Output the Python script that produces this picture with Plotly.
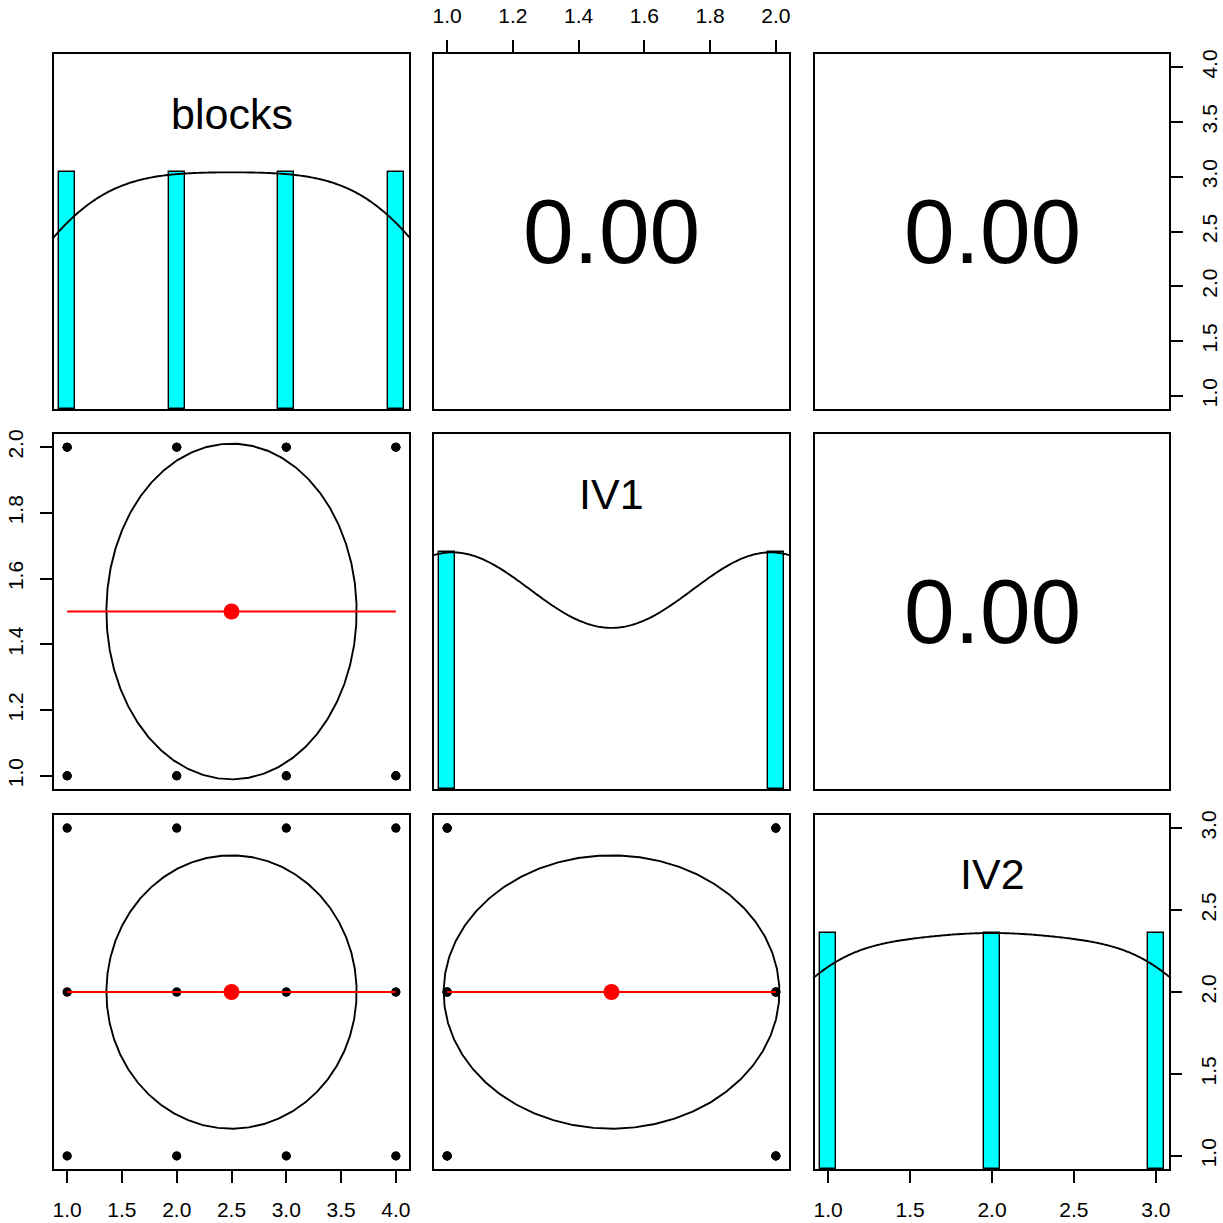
import numpy as np
import plotly.graph_objects as go

# ---------------- data ----------------
var_names = ["blocks", "IV1", "IV2"]
blocks_levels = [1, 2, 3, 4]
iv1_levels = [1, 2]
iv2_levels = [1, 2, 3]

# full factorial design: 4 x 2 x 3 = 24 observations
blocks = []
iv1 = []
iv2 = []
for b in blocks_levels:
    for a in iv1_levels:
        for c in iv2_levels:
            blocks.append(b)
            iv1.append(a)
            iv2.append(c)

blocks_ticks = [1.0, 1.5, 2.0, 2.5, 3.0, 3.5, 4.0]
iv1_ticks = [1.0, 1.2, 1.4, 1.6, 1.8, 2.0]
iv2_ticks = [1.0, 1.5, 2.0, 2.5, 3.0]

# kernel bandwidths of the diagonal density curves
density_bw = [0.70, 0.343, 0.56]

# ---------------- helpers ----------------
data = [np.array(blocks, float), np.array(iv1, float), np.array(iv2, float)]
ticks = [blocks_ticks, iv1_ticks, iv2_ticks]

def ext_range(v):
    lo, hi = v.min(), v.max()
    d = (hi - lo) * 0.04
    return [lo - d, hi + d]

ranges = [ext_range(v) for v in data]

W = 1223
col_px = [(54, 409), (434, 789), (815, 1169)]
row_px = [(54, 409), (434, 789), (815, 1169)]

FONT = "Liberation Sans, Arial, Helvetica, sans-serif"
TICKFONT = dict(family=FONT, size=21, color="black")
LW = 1.9
STANDOFF = 9

fig = go.Figure()
layout = dict(
    template="none",
    width=W, height=W, autosize=False,
    margin=dict(l=0, r=0, t=0, b=0, pad=0),
    paper_bgcolor="white", plot_bgcolor="white",
    showlegend=False, font=dict(family=FONT, color="black"),
    bargap=0,
)
annotations = []

def kidx(r, c):
    return r * 3 + c + 1

def axname(prefix, k):
    return prefix if k == 1 else f"{prefix}{k}"

for r in range(3):
    for c in range(3):
        k = kidx(r, c)
        xd = [col_px[c][0] / W, col_px[c][1] / W]
        yd = [1 - row_px[r][1] / W, 1 - row_px[r][0] / W]
        xa = dict(domain=xd, anchor=axname("y", k), range=ranges[c],
                  showline=True, mirror=True, linecolor="black", linewidth=LW,
                  showgrid=False, zeroline=False, ticks="", showticklabels=False,
                  fixedrange=True, automargin=False)
        if r == c:
            yrange = [0, 1.5]
        else:
            yrange = ranges[r]
        ya = dict(domain=yd, anchor=axname("x", k), range=yrange,
                  showline=True, mirror=True, linecolor="black", linewidth=LW,
                  showgrid=False, zeroline=False, ticks="", showticklabels=False,
                  fixedrange=True, automargin=False)
        tickstyle = dict(ticks="outside", ticklen=12, tickwidth=LW, tickcolor="black",
                         showticklabels=True, tickfont=TICKFONT,
                         ticklabelstandoff=STANDOFF)
        # x axes with tick labels
        if (r, c) in [(2, 0), (2, 2)]:
            xa.update(tickstyle, side="bottom", tickvals=ticks[c],
                      ticktext=[f"{t:.1f}" for t in ticks[c]])
        if (r, c) == (0, 1):
            xa.update(tickstyle, side="top", tickvals=ticks[c],
                      ticktext=[f"{t:.1f}" for t in ticks[c]])
        # y axes with tick labels
        if (r, c) == (0, 2):
            ya.update(tickstyle, side="right", tickvals=ticks[r], tickangle=-90,
                      ticktext=[f"{t:.1f}" for t in ticks[r]])
        if (r, c) == (1, 0):
            ya.update(tickstyle, side="left", tickvals=ticks[r], tickangle=-90,
                      ticktext=[f"{t:.1f}" for t in ticks[r]])
        layout["xaxis" + ("" if k == 1 else str(k))] = xa
        layout["yaxis" + ("" if k == 1 else str(k))] = ya

        xref, yref = axname("x", k), axname("y", k)
        x, y = data[c], data[r]

        if r == c:
            # histogram of discrete values
            vals, counts = np.unique(x, return_counts=True)
            h = counts / counts.max()
            interbreak = np.min(np.diff(vals)) * (len(vals) - 1) / 41
            fig.add_trace(go.Bar(x=vals, y=h, width=2 * interbreak, base=0,
                                 marker=dict(color="#00FFFF",
                                             line=dict(color="black", width=1.4)),
                                 xaxis=xref, yaxis=yref, hoverinfo="skip"))
            # kernel density, scaled to max 1
            bw = density_bw[r]
            grid = np.linspace(x.min() - 3 * bw, x.max() + 3 * bw, 512)
            dens = np.exp(-0.5 * ((grid[:, None] - x[None, :]) / bw) ** 2).sum(axis=1)
            dens = dens / dens.max()
            fig.add_trace(go.Scatter(x=grid, y=dens, mode="lines",
                                     line=dict(color="black", width=LW, simplify=False),
                                     xaxis=xref, yaxis=yref, hoverinfo="skip"))
            annotations.append(dict(text=var_names[r], x=0.5, y=0.832,
                                    xref=f"{xref} domain", yref=f"{yref} domain",
                                    showarrow=False, xanchor="center", yanchor="middle",
                                    font=dict(family=FONT, size=43, color="black")))
        elif r > c:
            # scatter points
            fig.add_trace(go.Scatter(x=x, y=y, mode="markers",
                                     marker=dict(color="black", size=9),
                                     xaxis=xref, yaxis=yref, hoverinfo="skip",
                                     cliponaxis=False))
            # correlation ellipse
            xm, ym = x.mean(), y.mean()
            xs, ys = x.std(ddof=1), y.std(ddof=1)
            rr = np.corrcoef(x, y)[0, 1]
            seg = 51
            ang = np.arange(seg + 1) * 2 * np.pi / seg
            unit = np.column_stack([np.cos(ang), np.sin(ang)])
            th = (np.sign(rr) if abs(rr) > 1e-12 else 1) / np.sqrt(2)
            shape = np.diag([np.sqrt(1 + rr), np.sqrt(1 - rr)]) @ np.array([[th, th], [-th, th]])
            ell = unit @ shape
            ex = ell[:, 0] * xs + xm
            ey = ell[:, 1] * ys + ym
            fig.add_trace(go.Scatter(x=ex, y=ey, mode="lines",
                                     line=dict(color="black", width=LW, simplify=False),
                                     xaxis=xref, yaxis=yref, hoverinfo="skip"))
            fig.add_trace(go.Scatter(x=[xm], y=[ym], mode="markers",
                                     marker=dict(color="red", size=16),
                                     xaxis=xref, yaxis=yref, hoverinfo="skip"))
            # smoother (group means of y at each x)
            ux = np.unique(x)
            gm = np.array([y[x == u].mean() for u in ux])
            fig.add_trace(go.Scatter(x=ux, y=gm, mode="lines",
                                     line=dict(color="red", width=LW),
                                     xaxis=xref, yaxis=yref, hoverinfo="skip"))
        else:
            # correlation text
            rr = np.corrcoef(data[r], data[c])[0, 1]
            rr = round(rr, 2) + 0.0
            fig.add_trace(go.Scatter(x=[], y=[], xaxis=xref, yaxis=yref))
            annotations.append(dict(text=f"{rr:.2f}", x=0.5, y=0.5,
                                    xref=f"{xref} domain", yref=f"{yref} domain",
                                    showarrow=False, xanchor="center", yanchor="middle",
                                    font=dict(family=FONT, size=91, color="black")))

# extra right-side axis for IV2 on the bottom-right diagonal panel
layout["yaxis10"] = dict(overlaying="y9", side="right", anchor="x9", range=ranges[2],
                         showline=False, showgrid=False, zeroline=False,
                         ticks="outside", ticklen=12, tickwidth=LW, tickcolor="black",
                         tickvals=iv2_ticks, ticktext=[f"{t:.1f}" for t in iv2_ticks],
                         tickangle=-90, tickfont=TICKFONT, ticklabelstandoff=STANDOFF,
                         fixedrange=True, automargin=False)
fig.add_trace(go.Scatter(x=[], y=[], xaxis="x9", yaxis="y10"))

layout["annotations"] = annotations
fig.update_layout(**layout)
fig.write_html("out.html", config={"displayModeBar": False},
               post_script="document.body.style.margin='0';document.body.style.padding='0';"
                           "document.documentElement.style.overflow='hidden';")
